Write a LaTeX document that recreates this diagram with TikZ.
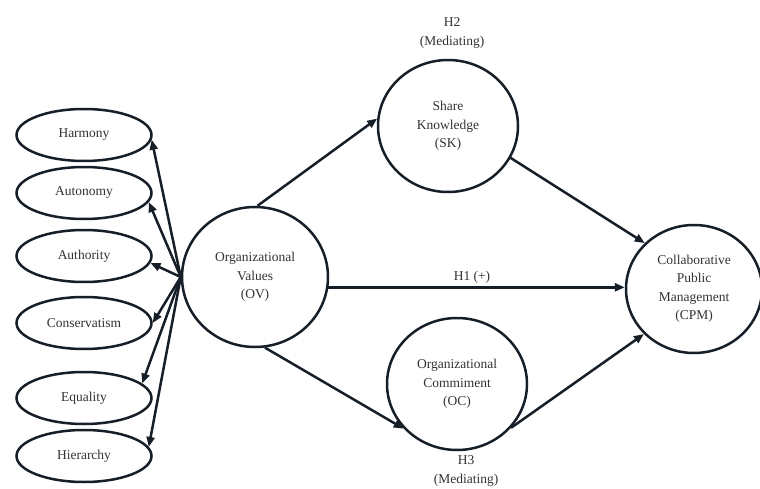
\documentclass[tikz,border=0pt]{standalone}
\usepackage{fontspec}
\setmainfont{Liberation Serif}
\usetikzlibrary{shapes.geometric,arrows.meta}
\definecolor{ink}{RGB}{22,30,40}
\definecolor{txt}{RGB}{50,50,55}
\begin{document}
\begin{tikzpicture}[x=1pt,y=-1pt,
  every node/.style={text=txt,font=\fontsize{13.5}{18.5}\selectfont,align=center},
  dim/.style={ellipse,draw=ink,line width=2.5pt,minimum width=135pt,minimum height=52pt,inner sep=0pt},
  construct/.style={ellipse,draw=ink,line width=2.5pt,inner sep=0pt},
  conn/.style={draw=ink,line width=2.5pt,-{Triangle[length=10pt,width=8pt]}},
  lbl/.style={inner sep=1pt}]
\useasboundingbox (0,0) rectangle (760,489);
\node[dim] (harmony) at (84,135) {Harmony};
\node[dim] (autonomy) at (84,193) {Autonomy};
\node[dim] (authority) at (84,256) {Authority};
\node[dim] (conserv) at (84,323) {Conservatism};
\node[dim] (equality) at (84,398) {Equality};
\node[dim] (hierarchy) at (84,456) {Hierarchy};
\node[construct,minimum width=146pt,minimum height=140pt] (ov) at (255,277) {Organizational\\Values\\(OV)};
\node[construct,minimum width=140pt,minimum height=132pt] (sk) at (448,126) {Share\\Knowledge\\(SK)};
\node[construct,minimum width=140pt,minimum height=132pt] (oc) at (457,384) {Organizational\\Commiment\\(OC)};
\node[construct,minimum width=136pt,minimum height=128pt] (cpm) at (694,289) {Collaborative\\Public\\Management\\(CPM)};
\node[lbl] (h2) at (452,33) {H2\\(Mediating)};
\node[lbl] (h3) at (466,471) {H3\\(Mediating)};
\node[lbl] (h1) at (472,277) {H1 (+)};
\coordinate (src) at (ov.180);
\draw[conn] (src) -- (harmony.-4);
\draw[conn] (src) -- (autonomy.-8);
\draw[conn] (src) -- (authority.-6);
\draw[conn] (src) -- (conserv.0);
\draw[conn] (src) -- (equality.14);
\draw[conn] (src) -- (hierarchy.8);
\draw[conn] (ov.88) -- (sk.174);
\draw[conn] (ov.-8.5) -- (ov.-8.5 -| cpm.west);
\draw[conn] (ov.-82) -- (oc.-140);
\draw[conn] (sk.-27) -- (cpm.137);
\draw[conn] (oc.-39) -- (cpm.-138);
\end{tikzpicture}
\end{document}
